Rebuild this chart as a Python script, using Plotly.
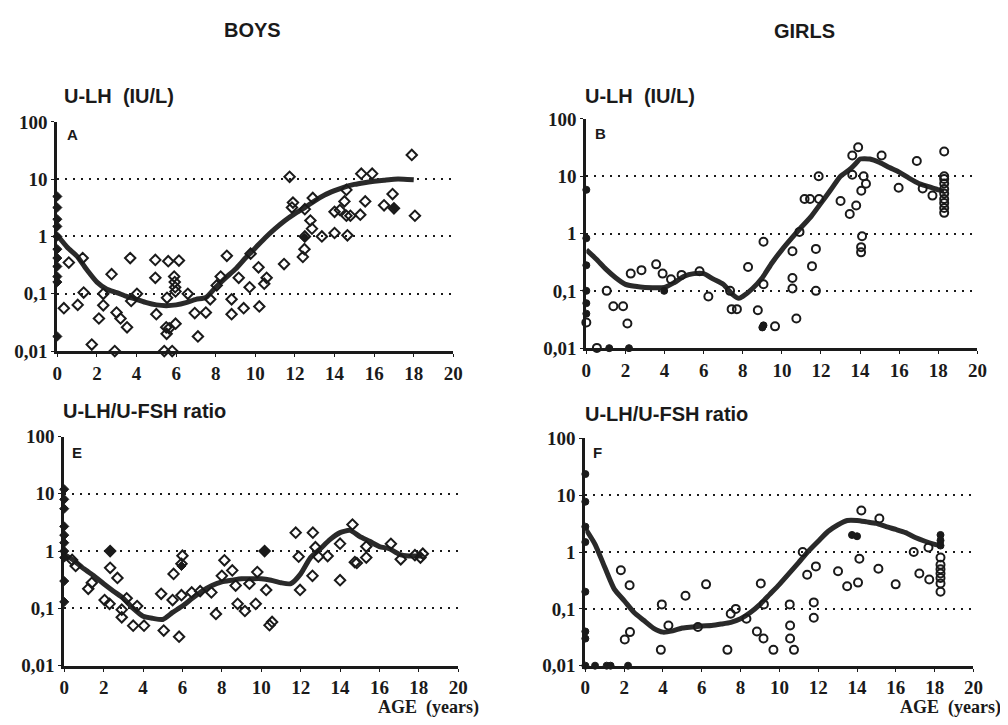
import plotly.graph_objects as go

# ---------------- DATA ----------------
# Panel A: boys U-LH (IU/L)
A_open_x = [0.33, 0.58, 1.03, 1.28, 1.33, 1.74, 2.1, 2.32, 2.32, 2.74, 2.9, 2.99, 3.19, 3.52, 3.68, 3.73,
            4.02, 4.95, 4.95, 5.0, 5.4, 5.6, 5.54, 5.5, 5.52, 5.65, 5.8, 5.9, 5.93, 5.95, 5.97, 6.14, 5.97,
            6.59, 6.94, 7.1, 7.5, 7.72, 8.05, 8.25, 8.56, 8.8, 8.8, 9.16, 9.41, 9.71, 9.76, 10.16, 10.2,
            10.57, 10.45, 11.45, 11.73, 11.9, 11.85, 12.4, 12.48, 12.5, 12.5, 12.78, 12.86, 12.9, 13.36,
            14.0, 14.0, 14.27, 14.5, 14.65, 14.6, 14.8, 14.6, 15.3, 15.35, 15.55, 15.9, 16.5, 16.93, 17.0,
            17.9, 18.06]
A_open_y = [0.056, 0.35, 0.064, 0.42, 0.105, 0.013, 0.037, 0.1, 0.063, 0.22, 0.01, 0.047, 0.037, 0.026,
            0.42, 0.075, 0.1, 0.39, 0.19, 0.044, 0.01, 0.37, 0.085, 0.026, 0.02, 0.025, 0.01, 0.2, 0.16,
            0.13, 0.11, 0.38, 0.03, 0.1, 0.046, 0.018, 0.047, 0.08, 0.14, 0.2, 0.46, 0.08, 0.044, 0.19,
            0.056, 0.13, 0.5, 0.29, 0.06, 0.19, 0.15, 0.33, 11.0, 3.9, 3.2, 0.44, 0.6, 1.0, 3.0, 1.9, 1.37,
            4.7, 1.0, 1.15, 2.7, 2.9, 4.1, 1.05, 2.3, 2.3, 6.5, 2.4, 12.5, 4.1, 12.5, 3.5, 5.5, 3.1, 26.5, 2.3]
A_fill_x = [0.0, 0.0, 0.0, 0.0, 0.0, 0.0, 0.0, 0.0, 0.0, 0.0, 0.0, 17.0, 12.5]
A_fill_y = [5.0, 3.2, 2.0, 1.5, 1.0, 0.6, 0.42, 0.3, 0.2, 0.16, 0.018, 3.2, 0.95]
A_fit_x = [0, 0.5, 1, 1.5, 2, 2.5, 3, 3.5, 4, 4.5, 5, 5.5, 6, 6.5, 7, 7.5, 8, 8.5, 9, 9.5, 10, 10.5,
           11, 11.5, 12, 12.5, 13, 13.5, 14, 14.5, 15, 15.5, 16, 16.5, 17, 17.5, 18]
A_fit_y = [1.05, 0.65, 0.45, 0.26, 0.16, 0.12, 0.105, 0.09, 0.08, 0.07, 0.064, 0.062, 0.064, 0.07, 0.08,
           0.086, 0.13, 0.19, 0.27, 0.42, 0.63, 0.95, 1.37, 1.9, 2.5, 3.2, 4.2, 5.3, 6.3, 7.3, 8.1, 8.7,
           9.2, 9.6, 10.0, 10.0, 9.8]

# Panel B: girls U-LH (IU/L)
B_open_x = [0.0, 0.54, 1.04, 1.38, 1.88, 2.1, 2.27, 2.82, 3.57, 3.9, 4.33, 4.87, 5.79, 6.24, 7.35, 7.43,
            7.7, 8.27, 8.77, 9.06, 9.06, 9.65, 10.54, 10.54, 10.54, 10.74, 10.9, 11.16, 11.44, 11.54,
            11.74, 11.74, 11.88, 11.9, 13.0, 13.47, 13.8, 13.6, 13.6, 13.9, 14.18, 14.3, 14.06, 14.1,
            14.05, 14.05, 15.1, 15.97, 16.9, 17.2, 17.7, 18.3, 18.3, 18.3, 18.3, 18.3, 18.3, 18.3, 18.3,
            18.3, 18.3]
B_open_y = [0.028, 0.0101, 0.1, 0.054, 0.054, 0.027, 0.2, 0.23, 0.29, 0.2, 0.16, 0.19, 0.22, 0.08, 0.1,
            0.048, 0.048, 0.26, 0.046, 0.72, 0.13, 0.024, 0.49, 0.168, 0.11, 0.033, 1.07, 4.0, 4.0, 0.27,
            0.54, 0.1, 10.0, 4.0, 3.7, 2.2, 3.1, 23.0, 10.6, 32.0, 10.0, 7.4, 5.6, 0.9, 0.58, 0.47, 23.0,
            6.3, 18.5, 6.1, 4.6, 27.0, 10.0, 9.0, 7.5, 6.0, 5.0, 4.0, 3.4, 2.8, 2.3]
B_fill_x = [0.0, 0.0, 0.0, 0.0, 0.0, 0.0, 1.17, 2.18, 3.98, 9.06, 9.0]
B_fill_y = [5.8, 0.83, 0.28, 0.1, 0.061, 0.04, 0.01, 0.01, 0.1, 0.025, 0.023]
B_fit_x = [0, 0.5, 1, 1.5, 2, 2.5, 3, 4, 4.5, 5, 5.5, 6, 6.5, 7, 7.5, 7.8, 8, 8.5, 9, 9.5, 10, 10.5, 11,
           11.5, 12, 12.5, 13, 13.5, 13.8, 14, 14.5, 15, 15.5, 16, 16.5, 17, 17.5, 18, 18.3]
B_fit_y = [0.52, 0.36, 0.24, 0.17, 0.13, 0.12, 0.115, 0.115, 0.14, 0.18, 0.2, 0.2, 0.16, 0.13, 0.085,
           0.074, 0.08, 0.11, 0.17, 0.31, 0.52, 0.83, 1.3, 2.0, 3.4, 5.8, 10.0, 13.4, 17.0, 20.0, 20.0,
           17.4, 14.2, 11.8, 9.3, 7.5, 6.6, 5.8, 5.5]

# Panel E: boys U-LH/U-FSH ratio
E_open_x = [0.58, 0.4, 1.22, 1.4, 2.33, 2.33, 2.05, 2.3, 2.7, 2.92, 2.92, 3.17, 3.5, 3.7, 4.05, 4.92, 5.05,
            5.55, 5.5, 5.83, 6.0, 5.95, 5.95, 6.47, 6.9, 7.47, 7.7, 8.13, 8.0, 8.53, 8.7, 8.8, 9.17, 9.4,
            9.8, 9.72, 10.17, 10.25, 10.42, 10.55, 11.75, 11.9, 11.97, 12.62, 12.75, 12.6, 12.9, 13.37,
            14.0, 14.0, 14.63, 14.75, 14.85, 15.33, 15.33, 16.58, 17.08, 18.08, 18.2, 17.8]
E_open_y = [0.55, 0.7, 0.22, 0.28, 1.0, 0.51, 0.14, 0.12, 0.34, 0.095, 0.07, 0.15, 0.05, 0.11, 0.05, 0.18,
            0.041, 0.4, 0.14, 0.032, 0.83, 0.6, 0.17, 0.19, 0.2, 0.19, 0.08, 0.69, 0.37, 0.46, 0.25, 0.12,
            0.09, 0.27, 0.43, 0.12, 1.0, 0.21, 0.051, 0.058, 2.1, 0.8, 0.21, 2.1, 1.17, 0.37, 0.8, 0.82,
            1.35, 0.31, 2.9, 0.64, 0.62, 1.2, 0.77, 1.34, 0.72, 0.77, 0.9, 0.85]
E_fill_x = [0.0, 0.0, 0.0, 0.0, 0.0, 0.0, 0.0, 0.0, 0.0, 0.0, 2.33, 5.95, 10.17]
E_fill_y = [12.0, 8.0, 5.5, 2.7, 1.9, 1.4, 1.0, 0.77, 0.3, 0.13, 1.0, 0.55, 1.0]
E_fit_x = [0, 0.5, 1, 1.5, 2, 2.5, 3, 3.5, 4, 4.5, 5, 5.5, 6, 6.5, 7, 7.5, 8, 8.5, 9, 9.5, 10, 10.5, 11,
           11.5, 12, 12.5, 13, 13.5, 14, 14.5, 15, 15.5, 16, 16.5, 17, 17.5, 18, 18.2]
E_fit_y = [0.88, 0.68, 0.49, 0.37, 0.27, 0.2, 0.15, 0.1, 0.073, 0.067, 0.064, 0.085, 0.11, 0.15, 0.2,
           0.25, 0.29, 0.31, 0.33, 0.33, 0.33, 0.31, 0.28, 0.27, 0.4, 0.77, 1.1, 1.6, 2.1, 2.3, 1.8, 1.48,
           1.2, 1.1, 0.88, 0.82, 0.82, 0.82]

# Panel F: girls U-LH/U-FSH ratio
F_open_x = [1.83, 2.28, 2.03, 2.3, 3.94, 3.89, 4.28, 5.16, 5.8, 6.22, 7.32, 7.49, 7.75, 8.3, 8.84, 9.04,
            9.2, 9.18, 9.69, 10.53, 10.55, 10.55, 10.75, 11.2, 11.43, 11.88, 11.77, 11.77, 13.02, 13.49,
            14.12, 14.05, 14.22, 15.1, 15.15, 15.99, 16.92, 17.21, 17.72, 17.68, 18.3, 18.3, 18.3, 18.3,
            18.3, 18.3, 18.3]
F_open_y = [0.48, 0.26, 0.029, 0.039, 0.12, 0.019, 0.051, 0.17, 0.048, 0.27, 0.019, 0.082, 0.1, 0.067,
            0.04, 0.28, 0.12, 0.03, 0.019, 0.12, 0.051, 0.03, 0.019, 1.0, 0.4, 0.56, 0.13, 0.07, 0.46,
            0.25, 0.76, 0.29, 5.4, 0.51, 3.9, 0.27, 1.0, 0.42, 0.33, 1.2, 0.8, 0.6, 0.5, 0.42, 0.35, 0.28,
            0.2]
F_fill_x = [0.0, 0.0, 0.0, 0.0, 0.0, 0.0, 0.0, 0.0, 0.5, 1.1, 1.3, 2.2, 13.74, 14.0, 18.3, 18.3, 18.3]
F_fill_y = [23.6, 7.7, 2.8, 1.5, 0.2, 0.04, 0.03, 0.01, 0.01, 0.01, 0.01, 0.01, 2.0, 1.9, 2.0, 1.6, 1.3]
F_fit_x = [0, 0.5, 1, 1.5, 2, 2.5, 3, 3.5, 4, 4.5, 5, 5.5, 6, 6.5, 7, 7.5, 8, 8.5, 9, 9.5, 10, 10.5, 11,
           11.5, 12, 12.5, 13, 13.5, 14, 14.5, 15, 15.5, 16, 16.5, 17, 17.5, 18, 18.3]
F_fit_y = [2.6, 1.37, 0.54, 0.22, 0.14, 0.087, 0.063, 0.046, 0.039, 0.041, 0.046, 0.048, 0.05, 0.051,
           0.054, 0.058, 0.067, 0.086, 0.12, 0.18, 0.27, 0.42, 0.66, 1.04, 1.55, 2.3, 3.0, 3.6, 3.6, 3.4,
           3.2, 2.8, 2.5, 2.2, 1.8, 1.55, 1.37, 1.3]

y_tickvals = [0.01, 0.1, 1, 10, 100]
y_ticktext = ["0,01", "0,1", "1", "10", "100"]
x_tickvals = [0, 2, 4, 6, 8, 10, 12, 14, 16, 18, 20]
x_ticktext = ["0", "2", "4", "6", "8", "10", "12", "14", "16", "18", "20"]

# ---------------- FIGURE ----------------
W, H = 1008, 725
OFF = 8  # page body margin: screen px = figure px + 8


def px_x(p):
    return (p - OFF) / W


def px_y(p):
    return 1 - (p - OFF) / H


fig = go.Figure()

panels = [
    ("", A_open_x, A_open_y, A_fill_x, A_fill_y, A_fit_x, A_fit_y, "diamond", (53, 455), (115, 351)),
    ("2", B_open_x, B_open_y, B_fill_x, B_fill_y, B_fit_x, B_fit_y, "circle", (590, 987), (112, 348)),
    ("3", E_open_x, E_open_y, E_fill_x, E_fill_y, E_fit_x, E_fit_y, "diamond", (60, 460), (439, 675)),
    ("4", F_open_x, F_open_y, F_fill_x, F_fill_y, F_fit_x, F_fit_y, "circle", (589, 983), (441, 675)),
]

serif = "Liberation Serif"
sans = "Liberation Sans"
ink = "#1a1a1a"
tick_font = dict(family=serif, size=19, color=ink)

for suf, ox, oy, fx, fy, cx, cy, sym, (x0, x1), (y0, y1) in panels:
    xa = "x" + suf
    ya = "y" + suf
    fig.add_trace(go.Scatter(x=cx, y=cy, xaxis=xa, yaxis=ya, mode="lines",
                             line=dict(color="#2a2a2a", width=5, shape="spline", smoothing=0.6),
                             cliponaxis=False, showlegend=False))
    fig.add_trace(go.Scatter(x=ox, y=oy, xaxis=xa, yaxis=ya, mode="markers",
                             marker=dict(symbol=sym + "-open", size=8,
                                         color=ink, line=dict(width=2, color=ink)),
                             cliponaxis=False, showlegend=False))
    fig.add_trace(go.Scatter(x=fx, y=fy, xaxis=xa, yaxis=ya, mode="markers",
                             marker=dict(symbol=sym, size=7, color=ink, line=dict(width=1, color=ink)),
                             cliponaxis=False, showlegend=False))
    fig.update_layout(**{
        "xaxis" + suf: dict(
            domain=[px_x(x0), px_x(x1)], anchor=ya, range=[0, 20], tickmode="array",
            tickvals=x_tickvals, ticktext=["<b>%s</b>" % t for t in x_ticktext],
            showline=True, linewidth=3, linecolor=ink, ticks="outside", ticklen=3, tickwidth=1,
            tickcolor=ink, showgrid=False, zeroline=False, tickfont=tick_font, fixedrange=True,
        ),
        "yaxis" + suf: dict(
            domain=[px_y(y1), px_y(y0)], anchor=xa, type="log", range=[-2, 2], tickmode="array",
            tickvals=y_tickvals, ticktext=["<b>%s</b>" % t for t in y_ticktext],
            showline=True, linewidth=3, linecolor=ink,
            ticks="outside", ticklen=3, tickwidth=1, tickcolor=ink,
            showgrid=True, gridcolor=ink, gridwidth=2, griddash="2px,6px", zeroline=False,
            tickfont=tick_font, fixedrange=True,
        ),
    })

ann = []


def txt(x, y, s, font, size, xanchor="left"):
    ann.append(dict(x=px_x(x), y=px_y(y), xref="paper", yref="paper", text=s, showarrow=False,
                    xanchor=xanchor, yanchor="middle", font=dict(family=font, size=size, color=ink)))


txt(251, 20, "<b>BOYS</b>", sans, 20, "center")
txt(811, 21, "<b>GIRLS</b>", sans, 20, "center")
txt(58, 88, "<b>U-LH  (IU/L)</b>", sans, 20)
txt(587, 88, "<b>U-LH  (IU/L)</b>", sans, 20)
txt(57, 413, "<b>U-LH/U-FSH ratio</b>", sans, 20)
txt(587, 416, "<b>U-LH/U-FSH ratio</b>", sans, 20)
txt(61, 128, "<b>A</b>", sans, 15)
txt(597, 127, "<b>B</b>", sans, 15)
txt(66, 455, "<b>E</b>", sans, 15)
txt(595, 455, "<b>F</b>", sans, 15)
txt(483, 718, "<b>AGE  (years)</b>", serif, 18, "right")
txt(1013, 718, "<b>AGE  (years)</b>", serif, 18, "right")

fig.update_layout(width=W, height=H, margin=dict(l=0, r=0, t=0, b=0), paper_bgcolor="white",
                  plot_bgcolor="white", annotations=ann, showlegend=False,
                  font=dict(family=serif, size=19, color=ink))

fig.write_html("out.html")
